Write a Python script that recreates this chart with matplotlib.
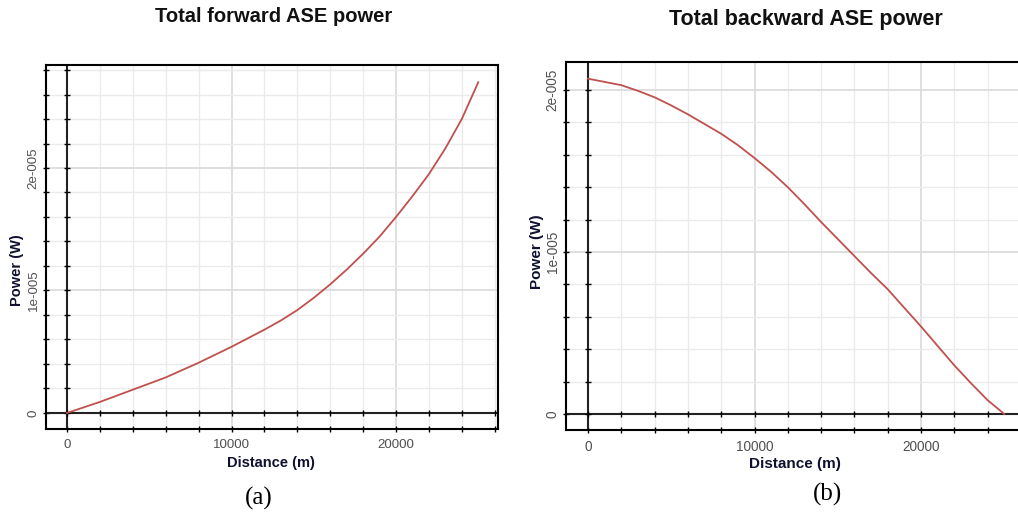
import numpy as np
import matplotlib
matplotlib.use('Agg')
import matplotlib.pyplot as plt
from matplotlib.ticker import FixedLocator, FixedFormatter

plt.rcParams['font.family'] = ['Liberation Sans', 'DejaVu Sans']

# distance (m), read every 1000 m
dist = [0, 1000, 2000, 3000, 4000, 5000, 6000, 7000, 8000, 9000, 10000,
        11000, 12000, 13000, 14000, 15000, 16000, 17000, 18000, 19000, 20000,
        21000, 22000, 23000, 24000, 25000]

# forward ASE power (x1e-5 W)
fwd_power = [0.0, 0.045, 0.09, 0.14, 0.19, 0.24, 0.29, 0.35, 0.41, 0.475, 0.54,
             0.61, 0.68, 0.755, 0.84, 0.94, 1.05, 1.17, 1.30, 1.44, 1.60,
             1.77, 1.95, 2.16, 2.40, 2.70]

# backward ASE power (x1e-5 W)
bwd_power = [2.07, 2.05, 2.03, 1.995, 1.955, 1.905, 1.85, 1.79, 1.73, 1.66, 1.58,
             1.495, 1.40, 1.295, 1.185, 1.08, 0.975, 0.87, 0.77, 0.655, 0.54,
             0.42, 0.30, 0.19, 0.085, 0.0]

x_major = [0, 10000, 20000]
x_major_labels = ['0', '10000', '20000']
y_major = [0, 1e-5, 2e-5]
y_major_labels = ['0', '1e-005', '2e-005']

titles = ['Total forward ASE power', 'Total backward ASE power']
captions = ['(a)', '(b)']

W, H = 1018, 514
fig = plt.figure(figsize=(W / 100, H / 100), dpi=100)


def px_axes(left, top, right, bottom):
    return fig.add_axes([left / W, 1 - bottom / H, (right - left) / W, (bottom - top) / H])


def style(ax, xlim, ylim, ymax_tick, tsize):
    ax.set_xlim(*xlim)
    ax.set_ylim(*ylim)
    xminor = np.arange(0, 26001, 2000)
    yminor = np.arange(0, ymax_tick + 1e-9, 2e-6)
    ax.xaxis.set_major_locator(FixedLocator(x_major))
    ax.xaxis.set_major_formatter(FixedFormatter(x_major_labels))
    ax.yaxis.set_major_locator(FixedLocator(y_major))
    ax.yaxis.set_major_formatter(FixedFormatter(y_major_labels))
    ax.xaxis.set_minor_locator(FixedLocator(xminor))
    ax.yaxis.set_minor_locator(FixedLocator(yminor))
    ax.grid(which='minor', color='#ebebeb', lw=1.0, zorder=0)
    ax.grid(which='major', color='#dcdcdc', lw=1.3, zorder=0)
    ax.tick_params(which='both', direction='inout', length=5, width=1, color='black')
    ax.tick_params(axis='x', which='major', labelsize=tsize, labelcolor='#505050', pad=5)
    ax.tick_params(axis='y', which='major', labelsize=tsize, labelcolor='#505050', pad=2,
                   labelrotation=90)
    for lbl in ax.get_yticklabels():
        lbl.set_va('center')
    for s in ax.spines.values():
        s.set_linewidth(1.5)
        s.set_color('black')
    ax.axhline(0, color='#222222', lw=1.5, zorder=2)
    ax.axvline(0, color='#222222', lw=1.5, zorder=2)
    ax.plot(xminor, np.zeros_like(xminor), ls='none', marker='|', ms=5, mew=1,
            color='black', zorder=3)
    ax.plot(np.zeros_like(yminor), yminor, ls='none', marker='_', ms=5, mew=1,
            color='black', zorder=3)


# (a) forward
ax1 = px_axes(46, 65, 498, 429)
style(ax1, (-1277, 26200), (-1.31e-6, 28.41e-6), 28e-6, 9.6)
ax1.plot(dist, np.array(fwd_power) * 1e-5, color='#c0504d', lw=1.3, zorder=4)

# (b) backward
ax2 = px_axes(566, 62, 1024, 430)
style(ax2, (-1321, 26185), (-0.99e-6, 21.73e-6), 20e-6, 9.8)
ax2.plot(dist, np.array(bwd_power) * 1e-5, color='#c0504d', lw=1.3, zorder=4)

fig.text(274 / W, 1 - 17 / H, titles[0], ha='center', va='center', fontsize=14.5,
         fontweight='bold', color='#111111')
fig.text(806 / W, 1 - 20 / H, titles[1], ha='center', va='center', fontsize=15.5,
         fontweight='bold', color='#111111')

fig.text(271 / W, 1 - 463 / H, 'Distance (m)', ha='center', va='center', fontsize=10.5,
         fontweight='bold', color='#101030')
fig.text(795 / W, 1 - 464 / H, 'Distance (m)', ha='center', va='center', fontsize=11,
         fontweight='bold', color='#101030')
fig.text(17.5 / W, 1 - 270 / H, 'Power (W)', ha='center', va='center', fontsize=10.5,
         fontweight='bold', color='#101030', rotation=90)
fig.text(537 / W, 1 - 252 / H, 'Power (W)', ha='center', va='center', fontsize=11,
         fontweight='bold', color='#101030', rotation=90)

fig.text(259 / W, 1 - 498 / H, captions[0], ha='center', va='center', fontsize=18,
         family='Liberation Serif', color='black')
fig.text(827 / W, 1 - 494 / H, captions[1], ha='center', va='center', fontsize=18,
         family='Liberation Serif', color='black')

fig.savefig('out.png', dpi=100)
